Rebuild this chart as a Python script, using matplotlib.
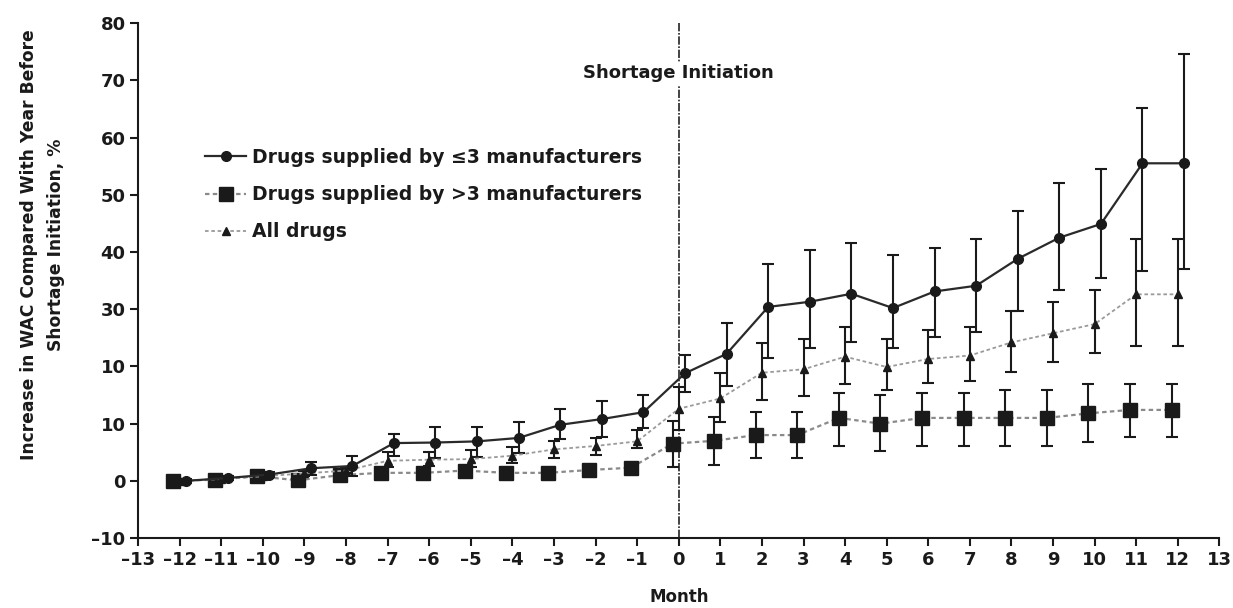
import matplotlib
matplotlib.use("Agg")
import matplotlib.pyplot as plt
import numpy as np

plt.rcParams['font.family'] = ['DejaVu Sans']

months = list(range(-12, 13))

# Drugs supplied by <=3 manufacturers (circles)
le3_mean = [0.0, 0.5, 1.1, 2.2, 2.6, 6.6, 6.7, 6.9, 7.5, 9.8, 10.8, 12.0,
            18.8, 22.2, 30.4, 31.3, 32.7, 30.2, 33.1, 34.1, 38.8, 42.5, 44.9, 55.5, 55.5]
le3_upper = [0.3, 0.8, 1.5, 3.3, 4.4, 8.2, 9.4, 9.4, 10.2, 12.5, 13.9, 15.0,
             22.0, 27.6, 37.9, 40.4, 41.5, 39.5, 40.7, 42.3, 47.2, 52.1, 54.5, 65.2, 74.6]
le3_lower = [-0.3, 0.2, 0.7, 1.1, 0.8, 4.4, 4.0, 4.2, 4.8, 7.3, 7.7, 9.3,
             15.6, 16.5, 21.5, 23.2, 24.2, 23.2, 25.2, 26.0, 29.7, 33.4, 35.4, 36.7, 37.1]

# Drugs supplied by >3 manufacturers (squares)
gt3_mean = [0.0, 0.2, 0.8, 0.1, 1.0, 1.4, 1.4, 1.8, 1.4, 1.4, 1.9, 2.3,
            6.5, 7.0, 8.0, 8.0, 11.0, 10.0, 11.0, 11.0, 11.0, 11.0, 11.8, 12.4, 12.4]
gt3_upper = [0.3, 0.5, 1.1, 0.4, 1.3, 1.7, 1.7, 2.1, 1.7, 1.7, 2.2, 2.6,
             10.5, 11.2, 12.1, 12.1, 15.4, 15.0, 15.4, 15.4, 15.9, 15.9, 17.0, 17.0, 17.0]
gt3_lower = [-0.3, -0.1, 0.5, -0.2, 0.7, 1.1, 1.1, 1.5, 1.1, 1.1, 1.6, 2.0,
             2.5, 2.8, 4.0, 4.0, 6.1, 5.2, 6.1, 6.1, 6.1, 6.1, 6.8, 7.7, 7.7]

# All drugs (triangles)
all_mean = [0.0, 0.3, 0.8, 1.3, 1.8, 3.5, 3.7, 3.8, 4.4, 5.5, 6.1, 6.9,
            12.6, 14.4, 18.9, 19.5, 21.7, 19.9, 21.3, 21.9, 24.2, 25.8, 27.4, 32.6, 32.6]
all_upper = [0.2, 0.5, 1.0, 1.8, 2.3, 5.1, 5.1, 5.4, 6.0, 7.0, 7.5, 8.9,
             16.4, 18.8, 24.1, 24.8, 26.9, 24.8, 26.4, 26.9, 29.7, 31.3, 33.4, 42.3, 42.3]
all_lower = [-0.2, 0.1, 0.6, 0.8, 1.3, 2.5, 2.6, 2.5, 3.1, 4.0, 4.5, 5.8,
             8.9, 10.2, 14.1, 14.9, 16.9, 15.9, 17.1, 17.5, 19.1, 20.8, 22.4, 23.6, 23.6]

labels = ["Drugs supplied by \u22643 manufacturers",
          "Drugs supplied by >3 manufacturers",
          "All drugs"]

x_ticks = list(range(-13, 14))
x_ticklabels = [("\u2013%d" % -v) if v < 0 else str(v) for v in x_ticks]
y_ticks = [-10, 0, 10, 20, 30, 40, 50, 60, 70, 80]
y_ticklabels = ["\u201310", "0", "10", "10", "30", "40", "50", "60", "70", "80"]

fig = plt.figure(figsize=(12.33, 6.08), dpi=100)
ax = fig.add_axes([0.112, 0.115, 0.877, 0.847])

m = np.array(months, dtype=float)
INK = '#1a1a1a'

def draw(offset, mean, up, lo, marker, ms, ls, color, lw, label, z):
    mean = np.array(mean); up = np.array(up); lo = np.array(lo)
    yerr = np.vstack([mean - lo, up - mean])
    ax.errorbar(m + offset, mean, yerr=yerr, fmt='none', ecolor=INK,
                elinewidth=1.5, capsize=4, capthick=1.5, zorder=z)
    ax.plot(m + offset, mean, linestyle=ls, color=color, lw=lw, marker=marker,
            ms=ms, mfc=INK, mec=INK, label=label, zorder=z + 1)

draw(0.15, le3_mean, le3_upper, le3_lower, 'o', 7, '-', '#2a2a2a', 1.6, labels[0], 5)
draw(-0.15, gt3_mean, gt3_upper, gt3_lower, 's', 9.5, (0, (2, 1.5)), '#8a8a8a', 1.6, labels[1], 3)
draw(0.0, all_mean, all_upper, all_lower, '^', 6, (0, (2, 1.5)), '#9a9a9a', 1.3, labels[2], 4)

ax.plot([0, 0], [-10, 80.5], color='#222222', lw=1.2, linestyle=(0, (5, 1, 1, 1)), zorder=2)
ax.text(0, 71.2, "Shortage Initiation", ha='center', va='center', fontsize=13,
        family=['Liberation Sans Narrow', 'DejaVu Sans'], fontweight='bold', color=INK,
        bbox=dict(facecolor='white', edgecolor='none', pad=2), zorder=6)

ax.set_xlim(-13, 13)
ax.set_ylim(-10, 80)
ax.set_xticks(x_ticks)
ax.set_xticklabels(x_ticklabels)
ax.set_yticks(y_ticks)
ax.set_yticklabels(y_ticklabels)
ax.tick_params(axis='both', direction='out', length=6, width=1.5, labelsize=13, colors=INK, pad=3)
for lab in ax.get_xticklabels() + ax.get_yticklabels():
    lab.set_fontweight('bold')
for s in ['top', 'right']:
    ax.spines[s].set_visible(False)
for s in ['left', 'bottom']:
    ax.spines[s].set_linewidth(1.5)
    ax.spines[s].set_color(INK)

ax.set_xlabel("Month", fontsize=12, fontweight='bold', color=INK, labelpad=14)
fig.text(0.0345, 1 - 245 / 608, "Increase in WAC Compared With Year Before\nShortage Initiation, %",
         rotation=90, ha='center', va='center', multialignment='center', fontsize=12.3,
         fontweight='bold', color=INK, linespacing=1.6)

leg = ax.legend(loc='upper left', bbox_to_anchor=(0.062, 0.758), frameon=False,
                fontsize=13.5, handlelength=2.2, handletextpad=0.3, labelspacing=0.98,
                borderpad=0, borderaxespad=0)
for t in leg.get_texts():
    t.set_fontweight('bold')
    t.set_color(INK)

fig.savefig("out.png", dpi=100)
